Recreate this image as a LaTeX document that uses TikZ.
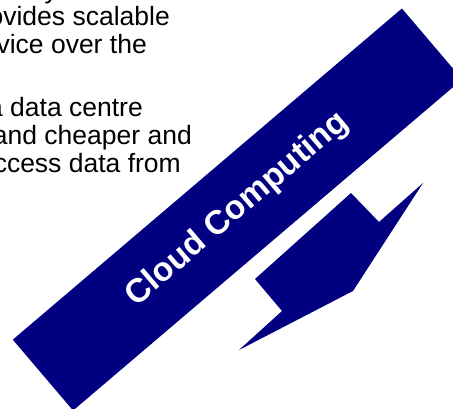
\documentclass[tikz,border=0pt]{standalone}
\usepackage{fontspec}
\setmainfont{Liberation Sans}
\usepackage{tikz}
\usetikzlibrary{positioning}
\definecolor{cloudnavy}{RGB}{0,0,128}

\begin{document}
\begin{tikzpicture}[x=1pt, y=-1pt,
  bodytext/.style={anchor=base east, inner sep=0pt, font=\fontsize{26.5}{29}\selectfont},
  banner/.style={fill=cloudnavy, text=white, inner sep=0pt, minimum width=511pt,
    minimum height=93pt, rotate=40.4, font=\bfseries\fontsize{33.5}{36}\selectfont}]
  % Frame
  \useasboundingbox (0,0) rectangle (453,409);
  % Text lines (cut at the left edge)
  \node[bodytext] (line0) at (58,-1) {y};
  \node[bodytext] (line1) at (170,26) {ovides scalable};
  \node[bodytext] (line2) at (147,54) {vice over the};
  \node[bodytext] (line3) at (143,117) {a data centre};
  \node[bodytext] (line4) at (192,145) {and cheaper and};
  \node[bodytext] (line5) at (181,173) {ccess data from};
  % Banner
  \node[banner] (cloud) at (237.5,209.5) {Cloud Computing};
  % Arrow
  \fill[cloudnavy] (351,193) -- (379,222) -- (423,183) -- (353,291)
    -- (239,350) -- (282,311) -- (255,279) -- cycle;
\end{tikzpicture}
\end{document}
